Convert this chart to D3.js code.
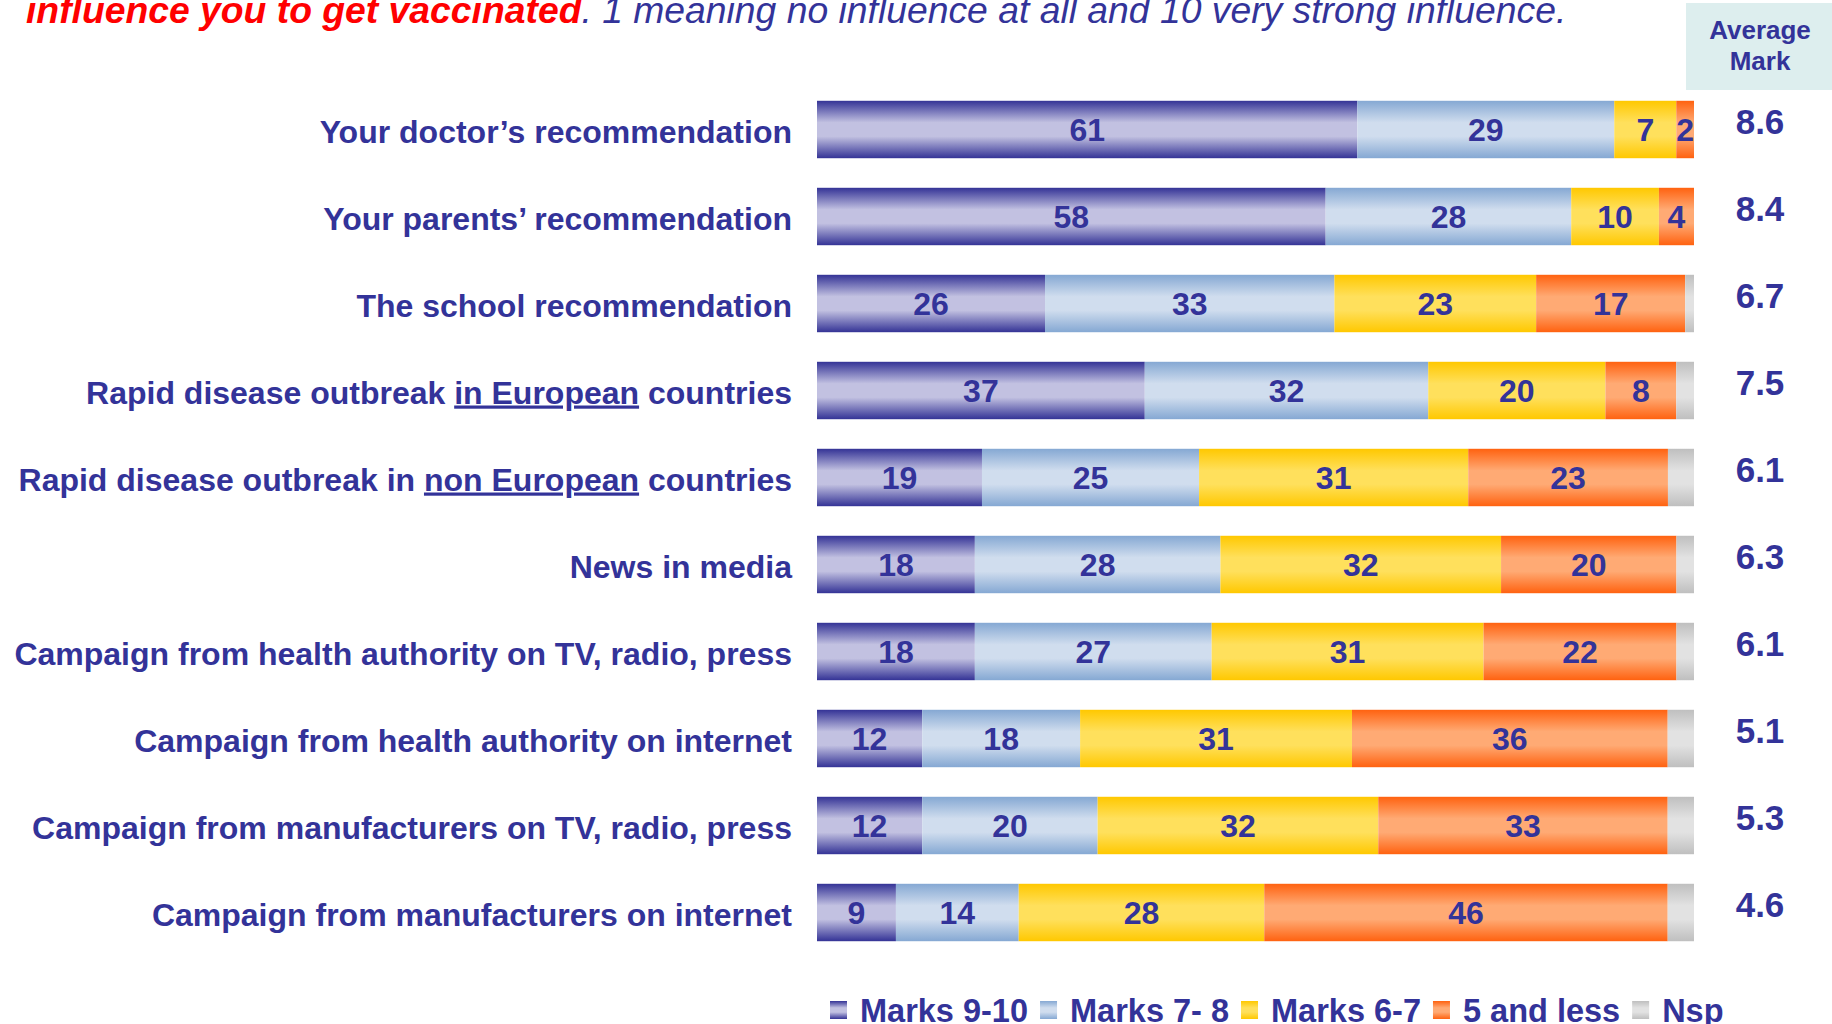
<!DOCTYPE html>
<html><head><meta charset="utf-8">
<script src="https://cdn.jsdelivr.net/npm/d3@7"></script>
<style>
html,body{margin:0;padding:0;background:#fff;}
svg{display:block;font-family:"Liberation Sans",Arial,sans-serif;}
</style></head>
<body>
<svg id="chart" width="1832" height="1024"></svg>
<script>
// ---- data ----
const categories = [
  "Your doctor’s recommendation",
  "Your parents’ recommendation",
  "The school recommendation",
  "Rapid disease outbreak in European countries",
  "Rapid disease outbreak in non European countries",
  "News in media",
  "Campaign from health authority on TV, radio, press",
  "Campaign from health authority on internet",
  "Campaign from manufacturers on TV, radio, press",
  "Campaign from manufacturers on internet"
];
// label pieces: [before, underlined, after]
const labelParts = [
  ["Your doctor’s recommendation","",""],
  ["Your parents’ recommendation","",""],
  ["The school recommendation","",""],
  ["Rapid disease outbreak ","in European"," countries"],
  ["Rapid disease outbreak in ","non European"," countries"],
  ["News in media","",""],
  ["Campaign from health authority on TV, radio, press","",""],
  ["Campaign from health authority on internet","",""],
  ["Campaign from manufacturers on TV, radio, press","",""],
  ["Campaign from manufacturers on internet","",""]
];
const seriesNames = ["Marks 9-10","Marks 7- 8","Marks 6-7","5 and less","Nsp"];
const marks910 = [61,58,26,37,19,18,18,12,12,9];
const marks78  = [29,28,33,32,25,28,27,18,20,14];
const marks67  = [7,10,23,20,31,32,31,31,32,28];
const lessThan5= [2,4,17,8,23,20,22,36,33,46];
const nsp      = [0,0,1,2,3,2,2,3,3,3];
const averageMark = ["8.6","8.4","6.7","7.5","6.1","6.3","6.1","5.1","5.3","4.6"];
const titleRed = "influence you to get vaccinated";
const titleBlue = ". 1 meaning no influence at all and 10 very strong influence.";
const avgHeader = ["Average","Mark"];

// ---- styles ----
const edgeColors = ["#343396","#85a8d3","#ffc800","#ff6210","#bfbfbf"];
const midColors  = ["#c2c1e1","#d0ddee","#ffe05c","#ffaa74","#e2e2e2"];
const textBlue = "#333399";

const svg = d3.select("#chart");
const defs = svg.append("defs");
seriesNames.forEach((s,i)=>{
  const g = defs.append("linearGradient").attr("id","grad"+i)
    .attr("x1",0).attr("y1",0).attr("x2",0).attr("y2",1);
  g.append("stop").attr("offset","0%").attr("stop-color",edgeColors[i]);
  g.append("stop").attr("offset","38%").attr("stop-color",midColors[i]);
  g.append("stop").attr("offset","62%").attr("stop-color",midColors[i]);
  g.append("stop").attr("offset","100%").attr("stop-color",edgeColors[i]);
});

const rows = categories.map((c,i)=>({cat:c, s0:marks910[i], s1:marks78[i], s2:marks67[i], s3:lessThan5[i], s4:nsp[i]}));
const keys = ["s0","s1","s2","s3","s4"];
const stacked = d3.stack().keys(keys).offset(d3.stackOffsetExpand)(rows);

const x = d3.scaleLinear().domain([0,1]).range([817,1694]);
const y = d3.scaleBand().domain(categories).range([86,956]).paddingInner(0.34).paddingOuter(0.17);

// bars
const layers = svg.append("g").selectAll("g").data(stacked).join("g")
  .attr("fill",(d,i)=>`url(#grad${i})`);
layers.selectAll("rect").data(d=>d).join("rect")
  .attr("x",d=>x(d[0])).attr("width",d=>Math.max(0,x(d[1])-x(d[0])))
  .attr("y",d=>y(d.data.cat)).attr("height",y.bandwidth());

// value labels
stacked.forEach((layer,li)=>{
  if(li===4) return;
  svg.append("g").selectAll("text").data(layer.filter(d=>d.data[keys[li]]>0)).join("text")
    .attr("x",d=>(x(d[0])+x(d[1]))/2)
    .attr("y",d=>y(d.data.cat)+y.bandwidth()/2+11.5)
    .attr("text-anchor","middle")
    .attr("font-size",32).attr("font-weight","bold").attr("fill",textBlue)
    .text(d=>d.data[keys[li]]);
});

// category labels
const lab = svg.append("g").selectAll("text").data(categories).join("text")
  .attr("x",792).attr("y",d=>y(d)+y.bandwidth()/2+13)
  .attr("text-anchor","end").attr("font-size",32).attr("font-weight","bold").attr("fill",textBlue);
lab.each(function(d,i){
  const t = d3.select(this); const p = labelParts[i];
  t.append("tspan").text(p[0]);
  if(p[1]) t.append("tspan").attr("text-decoration","underline").text(p[1]);
  if(p[2]) t.append("tspan").text(p[2]);
});

// average mark header
svg.append("rect").attr("x",1686).attr("y",3).attr("width",146).attr("height",87).attr("fill","#ddeeee");
svg.append("g").selectAll("text").data(avgHeader).join("text")
  .attr("x",1760).attr("y",(d,i)=>39+i*31).attr("text-anchor","middle")
  .attr("font-size",26).attr("font-weight","bold").attr("fill",textBlue).text(d=>d);

// average marks
svg.append("g").selectAll("text").data(averageMark).join("text")
  .attr("x",1760).attr("y",(d,i)=>y(categories[i])+y.bandwidth()/2+4)
  .attr("text-anchor","middle").attr("font-size",35).attr("font-weight","bold").attr("fill",textBlue)
  .text(d=>d);

// title
const title = svg.append("text").attr("x",26).attr("y",23).attr("font-size",37.3).attr("font-style","italic");
title.append("tspan").attr("fill","#ff0000").attr("font-weight","bold").text(titleRed);
title.append("tspan").attr("fill",textBlue).text(titleBlue);

// legend
const leg = svg.append("g");
let lx = 830;
seriesNames.forEach((s,i)=>{
  leg.append("rect").attr("x",lx).attr("y",1001).attr("width",17).attr("height",18).attr("fill",`url(#grad${i})`);
  const t = leg.append("text").attr("x",lx+30).attr("y",1022).attr("font-size",32.5).attr("font-weight","bold").attr("fill",textBlue).text(s);
  lx = lx + 30 + t.node().getComputedTextLength() + 12;
});
</script>
</body></html>
